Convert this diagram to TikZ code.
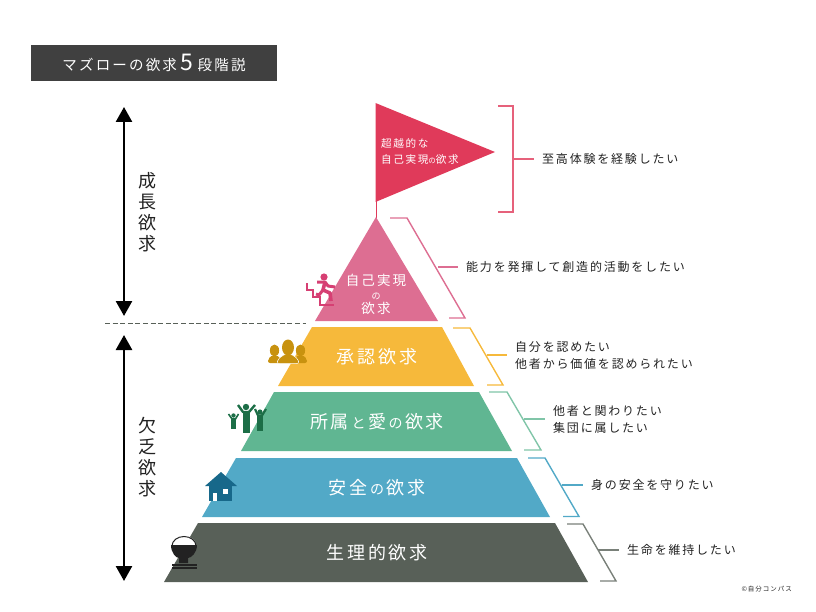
\documentclass[tikz,border=0pt]{standalone}
\usepackage{fontspec}
\usetikzlibrary{arrows.meta}
\setmainfont[LetterSpace=15]{Noto Sans CJK JP}
\newcommand{\fsz}[1]{\fontsize{#1}{#1}\selectfont}
\newcommand{\kana}[1]{\makebox[19pt]{\fsz{14}#1}}
\definecolor{flagred}{HTML}{E03A5A}
\definecolor{tierpink}{HTML}{DD6E92}
\definecolor{tierorange}{HTML}{F6B93B}
\definecolor{tiergreen}{HTML}{60B692}
\definecolor{tierblue}{HTML}{52A9C7}
\definecolor{tierdark}{HTML}{586058}
\definecolor{titlegray}{HTML}{404040}
\definecolor{inkgray}{HTML}{222222}
\definecolor{runpink}{HTML}{D63F73}
\definecolor{goldicon}{HTML}{C8920F}
\definecolor{greenicon}{HTML}{1C6E47}
\definecolor{houseblue}{HTML}{17688A}
\tikzset{
	want/.style={anchor=west, inner sep=8pt, align=left, text=inkgray, font=\fsz{12}, execute at begin node={\baselineskip=17pt}},
	tier/.style={text=white, font=\fsz{18}},
	side/.style={align=center, text=inkgray, font=\fsz{18}, execute at begin node={\baselineskip=21pt}},
	brk/.style={line width=1.4pt},
	span/.style={line width=2.6pt, {Triangle[width=16pt,length=15pt]}-{Triangle[width=16pt,length=15pt]}},
}
\begin{document}
\begin{tikzpicture}[x=1pt, y=-1pt]
	\useasboundingbox (0,0) rectangle (816,612);

	% title and the two spans
	\node[fill=titlegray, minimum width=246pt, minimum height=36pt, inner sep=0pt, text=white] (title) at (154,63)
		{\fsz{14.5}マズローの欲求\hspace{4pt}{\fsz{23}5}\hspace{4pt}段階説};
	\coordinate (growtop) at (124,107);
	\coordinate (growend) at (124,316);
	\coordinate (lacktop) at (124,335);
	\coordinate (lackend) at (124,581);
	\draw[span] (growtop) -- (growend);
	\draw[span] (lacktop) -- (lackend);
	\node[side] (grow) at (147,212) {成\\長\\欲\\求};
	\node[side] (lack) at (147,457) {欠\\乏\\欲\\求};
	\coordinate (dashl) at (105,323.5);
	\coordinate (dashr) at (306,323.5);
	\draw[line width=1.2pt, tierdark, dash pattern=on 5pt off 2.6pt] (dashl) -- (dashr);

	% flag and pyramid
	\draw[flagred, line width=1pt] (376,150) -- (376,218);
	\fill[flagred] (375.5,103) -- (495,152) -- (375.5,202) -- cycle;
	\fill[tierpink] (376,217) -- (438,321) -- (315,321) -- cycle;
	\fill[tierorange] (312,327) -- (442,327) -- (474,386) -- (278,386) -- cycle;
	\fill[tiergreen] (274,392) -- (479,392) -- (512,451) -- (241,451) -- cycle;
	\fill[tierblue] (236,458) -- (517,458) -- (550,517) -- (202,517) -- cycle;
	\fill[tierdark] (198,523) -- (555,523) -- (588,582) -- (164,582) -- cycle;

	\node[anchor=west, inner sep=0pt, align=left, text=white, font=\fsz{10.6}, execute at begin node={\baselineskip=16pt}] (flagtxt) at (381,151)
		{超越的な\\自己実現{\fsz{7.5}の}欲求};
	\node[align=center, text=white, font=\fsz{13.5}, execute at begin node={\baselineskip=14pt}] (selftxt) at (376,294)
		{自己実現\\{\fsz{9}の}\\欲求};
	\node[tier] (esteem) at (377,357) {承認欲求};
	\node[tier] (belong) at (377,422) {所属\kana{と}愛\kana{の}欲求};
	\node[tier] (safety) at (377,488) {安全\kana{の}欲求};
	\node[tier] (body) at (377,553) {生理的欲求};

	% what each level wants
	\node[want] (wflag) at (534,159) {至高体験を経験したい};
	\node[want] (wself) at (458,267) {能力を発揮して創造的活動をしたい};
	\node[want] (westeem) at (507,355) {自分を認めたい\\他者から価値を認められたい};
	\node[want] (wbelong) at (545,419) {他者と関わりたい\\集団に属したい};
	\node[want] (wsafety) at (583,485) {身の安全を守りたい};
	\node[want] (wbody) at (619,550) {生命を維持したい};
	\node[anchor=east, inner sep=0pt, text=inkgray, font=\fsz{6.5}] (credit) at (792,589) {©自分コンパス};

	% brackets
	\coordinate (bflag) at (513,159);
	\coordinate (bself) at (438,267);
	\coordinate (besteem) at (487,355);
	\coordinate (bbelong) at (524,419);
	\coordinate (bsafety) at (562,485);
	\coordinate (bbody) at (598,550);
	\draw[brk, flagred!80] (498,106) -- (513,106) -- (513,212) -- (498,212);
	\draw[brk, flagred!80] (bflag) -- (wflag.west);
	\draw[brk, tierpink] (390,218) -- (407,218) -- (465,318) -- (449,318);
	\draw[brk, tierpink] (bself) -- (wself.west);
	\draw[brk, tierorange] (453,328) -- (470,328) -- (503,385) -- (487,385);
	\draw[brk, tierorange] (besteem) -- (westeem.west);
	\draw[brk, tiergreen!80] (489,392) -- (507,392) -- (541,450) -- (524,450);
	\draw[brk, tiergreen!80] (bbelong) -- (wbelong.west);
	\draw[brk, tierblue] (528,458) -- (545,458) -- (579,516.5) -- (563,516.5);
	\draw[brk, tierblue] (bsafety) -- (wsafety.west);
	\draw[brk, tierdark!80] (567,524) -- (583,524) -- (616,581) -- (600,581);
	\draw[brk, tierdark!80] (bbody) -- (wbody.west);

	% runner on the stairs
	\draw[runpink, line width=1.2pt] (307,283) -- (307,290) -- (313,290) -- (313,297) -- (320,297) -- (320,305) -- (334,305);
	\fill[runpink] (324,277) circle (3.6);
	\draw[runpink, line width=3pt, line join=round] (317,282) -- (325,282) -- (328,286) -- (335,287);
	\draw[runpink, line width=3.6pt, line join=round] (325,282) -- (323,290) -- (330,293) -- (331,301);
	\draw[runpink, line width=3pt, line join=round] (323,290) -- (319,295) -- (316,294);

	% three people
	\foreach \px in {274.5,300.5} {
		\fill[goldicon] (\px,350.5) ellipse (4.6 and 6);
		\fill[goldicon, rounded corners=2pt] (\px-6.5,363) -- (\px-6.5,359) -- (\px-2,355) -- (\px+2,355) -- (\px+6.5,359) -- (\px+6.5,363) -- cycle;
	}
	\fill[goldicon, draw=white, line width=0.5pt, rounded corners=2pt] (277,363.5) -- (278,359) -- (285,354) -- (291,354) -- (298,359) -- (299,363.5) -- cycle;
	\fill[goldicon] (288,347.5) ellipse (6 and 8);

	% raised arms
	\fill[greenicon] (246,407) circle (3.2);
	\draw[greenicon, line width=2.4pt, line join=round] (238,405) -- (243,412) -- (249,412) -- (255,405);
	\fill[greenicon] (243,411) rectangle (249.5,433);
	\fill[greenicon] (260,412) circle (2.6);
	\draw[greenicon, line width=2.2pt, line join=round] (255,409) -- (258,415.5) -- (262,415.5) -- (266,409);
	\fill[greenicon] (257,415) rectangle (263,431);
	\fill[greenicon] (233.5,415.5) circle (2.2);
	\draw[greenicon, line width=1.6pt, line join=round] (228.5,414) -- (232,419) -- (235.5,419) -- (238.5,414);
	\fill[greenicon] (231,418) rectangle (236,428.5);

	% house
	\fill[houseblue] (221,472) -- (237,486) -- (205,486) -- cycle;
	\fill[houseblue] (209,484) rectangle (232,501);
	\fill[white] (213,493) rectangle (217,501);
	\fill[white] (223,489) rectangle (228,494);

	% rice bowl
	\fill[white] (172,545) arc[start angle=180, end angle=360, x radius=12, y radius=9] -- cycle;
	\draw[inkgray, line width=1pt] (172,546) arc[start angle=180, end angle=360, x radius=12, y radius=9.5];
	\fill[inkgray] (171,545) -- (197,545) .. controls (197,553) and (191,558) .. (188,558) -- (188,563) -- (179,563) -- (179,558) .. controls (176,558) and (171,553) .. (171,545) -- cycle;
	\draw[inkgray, line width=1.2pt] (172,565) -- (197,565);
	\draw[inkgray, line width=1.2pt] (172,568) -- (197,568);
\end{tikzpicture}
\end{document}
